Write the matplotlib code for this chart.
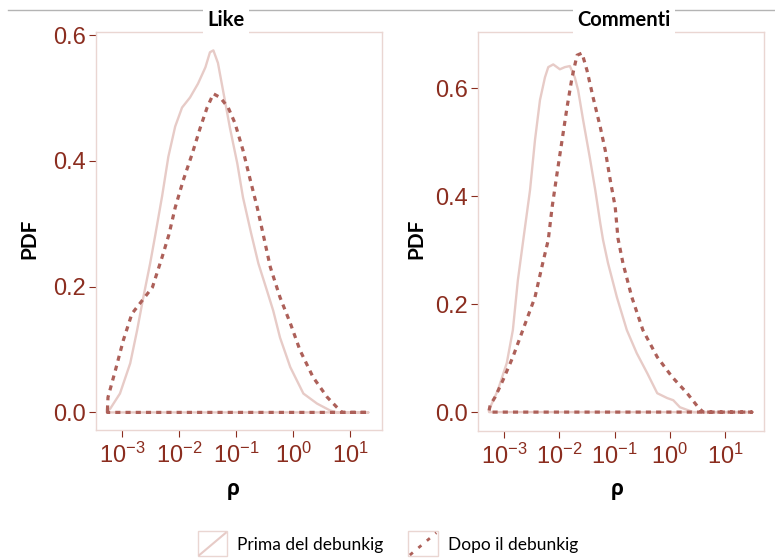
import matplotlib
matplotlib.use("Agg")
import numpy as np
import matplotlib.pyplot as plt
from matplotlib.lines import Line2D
from matplotlib.patches import Rectangle
from matplotlib.legend_handler import HandlerBase

# log10(rho) and PDF values
like_prima_x = [-3.26, -3.21, -3.04, -2.86, -2.74, -2.63, -2.51, -2.42, -2.30, -2.19,
                -2.07, -1.95, -1.81, -1.67, -1.54, -1.46, -1.40, -1.32, -1.23, -1.11,
                -0.98, -0.88, -0.74, -0.61, -0.46, -0.35, -0.23, -0.05, 0.18, 0.42,
                0.65, 0.77, 1.32]
like_prima_y = [0.003, 0.006, 0.030, 0.078, 0.130, 0.183, 0.237, 0.282, 0.344, 0.407,
                0.455, 0.485, 0.501, 0.523, 0.549, 0.573, 0.576, 0.556, 0.512, 0.453,
                0.396, 0.342, 0.286, 0.237, 0.194, 0.162, 0.119, 0.072, 0.030, 0.014,
                0.003, 0.0, 0.0]

like_dopo_x = [-3.26, -3.25, -3.12, -2.98, -2.83, -2.65, -2.47, -2.30, -2.18, -2.07,
               -1.93, -1.77, -1.63, -1.51, -1.40, -1.28, -1.14, -1.02, -0.88, -0.75,
               -0.63, -0.53, -0.40, -0.23, -0.05, 0.12, 0.35, 0.60, 0.77, 0.86, 1.32]
like_dopo_y = [0.003, 0.024, 0.067, 0.115, 0.157, 0.178, 0.199, 0.247, 0.283, 0.326,
               0.369, 0.412, 0.453, 0.485, 0.507, 0.501, 0.485, 0.460, 0.417, 0.369,
               0.326, 0.285, 0.231, 0.183, 0.142, 0.099, 0.056, 0.024, 0.008, 0.0, 0.0]

comm_prima_x = [-3.27, -3.25, -3.11, -2.95, -2.84, -2.75, -2.64, -2.53, -2.44, -2.35,
                -2.26, -2.20, -2.11, -1.99, -1.90, -1.81, -1.72, -1.66, -1.57, -1.45,
                -1.35, -1.26, -1.21, -1.12, -0.96, -0.78, -0.60, -0.41, -0.23, -0.05,
                0.06, 0.18, 0.42, 1.48]
comm_prima_y = [0.003, 0.009, 0.041, 0.091, 0.152, 0.244, 0.328, 0.411, 0.504, 0.578,
                0.620, 0.639, 0.644, 0.635, 0.639, 0.641, 0.620, 0.596, 0.541, 0.472,
                0.411, 0.350, 0.319, 0.276, 0.213, 0.152, 0.109, 0.072, 0.035, 0.026,
                0.022, 0.009, 0.0, 0.0]

comm_dopo_x = [-3.27, -3.25, -3.16, -3.02, -2.84, -2.66, -2.44, -2.30, -2.20, -2.13,
               -2.04, -1.95, -1.86, -1.77, -1.68, -1.59, -1.50, -1.39, -1.26, -1.17,
               -1.08, -0.99, -0.94, -0.85, -0.69, -0.49, -0.23, 0.04, 0.31, 0.51,
               0.60, 1.48]
comm_dopo_y = [0.003, 0.013, 0.028, 0.059, 0.102, 0.152, 0.213, 0.276, 0.319, 0.380,
               0.443, 0.504, 0.565, 0.620, 0.661, 0.665, 0.633, 0.583, 0.528, 0.485,
               0.430, 0.380, 0.322, 0.276, 0.213, 0.152, 0.102, 0.065, 0.035, 0.009,
               0.0, 0.0]

panel_titles = ["Like", "Commenti"]
legend_labels = ["Prima del debunkig", "Dopo il debunkig"]
y_ticks = [[0.0, 0.2, 0.4, 0.6], [0.0, 0.2, 0.4, 0.6]]
x_ticks = [1e-3, 1e-2, 1e-1, 1e0, 1e1]

RED = "#8b2d1f"
PINK = "#e7cbc7"
DASH = "#ad6059"
SPINE = "#ead6d2"

plt.rcParams["font.family"] = ["Liberation Sans", "DejaVu Sans"]


def outline(logx, pdf):
    # closed density outline, like geom_density with no fill
    x = 10 ** np.array(logx)
    y = np.array(pdf)
    x = np.concatenate([x, [x[-1], x[0], x[0]]])
    y = np.concatenate([y, [0.0, 0.0, y[0]]])
    return x, y


class BoxHandler(HandlerBase):
    # square key with a diagonal line, like the ggplot legend keys
    def create_artists(self, legend, orig_handle, xdescent, ydescent,
                       width, height, fontsize, trans):
        x0, y0 = -xdescent, -ydescent + height / 2 - 9
        box = Rectangle((x0, y0), width, 18, fill=False, edgecolor=SPINE,
                        lw=1.0, transform=trans)
        diag = Line2D([x0 + 1, x0 + width - 1], [y0 + 1, y0 + 17],
                      color=orig_handle.get_color(),
                      lw=orig_handle.get_linewidth(),
                      transform=trans)
        if orig_handle.get_linestyle() != "-":
            diag.set_dashes((1.4, 2.6))
        return [box, diag]


fig = plt.figure(figsize=(7.75, 5.58), dpi=100)
axes = [fig.add_axes([0.1239, 0.2294, 0.369, 0.713]),
        fig.add_axes([0.6168, 0.2276, 0.369, 0.715])]
data = [(like_prima_x, like_prima_y, like_dopo_x, like_dopo_y),
        (comm_prima_x, comm_prima_y, comm_dopo_x, comm_dopo_y)]
ylims = [(-0.028, 0.605), (-0.035, 0.704)]
xlims = [(10 ** -3.46, 10 ** 1.56), (10 ** -3.47, 10 ** 1.70)]

for i, ax in enumerate(axes):
    px, py, dx, dy = data[i]
    x1, y1 = outline(px, py)
    x2, y2 = outline(dx, dy)
    ax.plot(x1, y1, color=PINK, lw=1.7, solid_joinstyle="round")
    ax.plot(x2, y2, color=DASH, lw=2.3, dashes=(1.6, 1.6))
    ax.set_xscale("log")
    ax.set_xlim(*xlims[i])
    ax.set_ylim(*ylims[i])
    ax.set_xticks(x_ticks)
    ax.minorticks_off()
    ax.set_yticks(y_ticks[i])
    ax.set_yticklabels([f"{v:.1f}" for v in y_ticks[i]])
    ax.tick_params(colors=RED, labelsize=17, length=5, width=0.8, pad=2)
    ax.tick_params(axis="x", pad=4)
    for s in ax.spines.values():
        s.set_color(SPINE)
        s.set_linewidth(1.0)

title_x = [226, 624]
ylab_x = [29, 416]
rho_x = [233, 617]
for i in range(2):
    fig.text(title_x[i] / 775, 1 - 20 / 558, panel_titles[i], ha="center", va="center",
             fontsize=14.5, fontweight="bold", family=["Lato", "DejaVu Sans"],
             bbox=dict(facecolor="white", edgecolor="none", pad=3))
    fig.text(ylab_x[i] / 775, 1 - 239 / 558, "PDF", ha="center", va="center",
             rotation=90, fontsize=15, fontweight="bold", family=["Lato", "DejaVu Sans"])
    fig.text(rho_x[i] / 775, 1 - 489 / 558, "ρ", ha="center", va="center",
             fontsize=15, fontweight="bold", family=["Open Sans", "DejaVu Sans"])

# thin grey rule at the top of the image
fig.add_artist(Line2D([0.01, 1.0], [1 - 10 / 558, 1 - 10 / 558],
                      color="#b4b4b4", lw=1.0, transform=fig.transFigure))

handles = [Line2D([], [], color=PINK, lw=1.5),
           Line2D([], [], color=DASH, lw=2.0, linestyle="--")]
fig.legend(handles, legend_labels, loc="center left",
           bbox_to_anchor=(198 / 775, 1 - 545 / 558), ncol=2, frameon=False,
           handler_map={Line2D: BoxHandler()}, handlelength=1.68, handletextpad=0.58,
           columnspacing=1.44, borderpad=0, borderaxespad=0,
           prop={"family": ["Lato", "DejaVu Sans"], "size": 12.5})

fig.savefig("out.png", dpi=100)
